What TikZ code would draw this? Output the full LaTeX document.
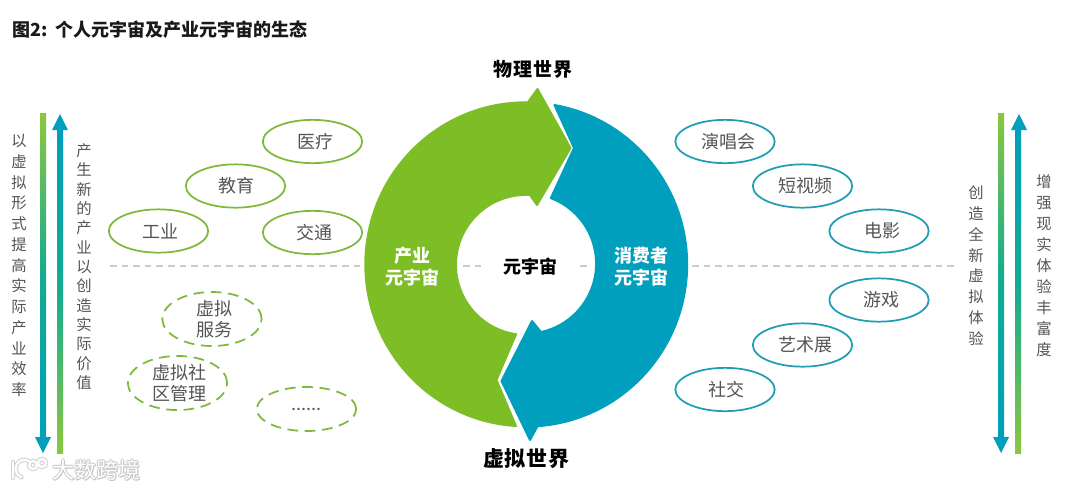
\documentclass[tikz,border=0pt]{standalone}
\usepackage{fontspec}
\setmainfont{Noto Sans CJK SC}
\usetikzlibrary{shapes.geometric}
\definecolor{mgreen}{HTML}{7DBE26}
\definecolor{mblue}{HTML}{009FBD}
\definecolor{egreen}{HTML}{7DB93A}
\definecolor{eblue}{HTML}{1F9DB5}
\definecolor{grad}{HTML}{15AC90}
\definecolor{bargreen}{HTML}{8CC63F}
\definecolor{txt}{HTML}{555555}
\newcommand{\fpx}[1]{\fontsize{\dimexpr #1pt*3/4\relax}{\dimexpr #1pt*9/10\relax}\selectfont}
\tikzset{
  ovbase/.style={ellipse,inner sep=0pt,minimum width=74.5pt,minimum height=32.5pt,line width=1.3pt,text=txt,font=\fpx{18},align=center},
  ovgreen/.style={ovbase,draw=egreen},
  ovblue/.style={ovbase,draw=eblue},
  ovdash/.style={ovbase,draw=egreen,dash pattern=on 8pt off 5pt,minimum height=37pt},
  ringa/.style={fill=mgreen,draw=mgreen,line width=1.5pt,line join=round},
  ringb/.style={fill=mblue,draw=mblue,line width=1.5pt,line join=round},
  hline/.style={draw=black!20,line width=0.8pt,dash pattern=on 5pt off 3.7pt},
  ringtxt/.style={text=white,font=\fpx{18}\bfseries,inner sep=0pt,align=center},
  bigtxt/.style={text=black,font=\fpx{19}\bfseries,inner sep=0pt},
  vtxt/.style={text=txt,align=center,inner sep=0pt},
  wm/.style={line width=1.7pt,line cap=round,draw=white},
  wms/.style={line width=3.4pt,line cap=round,draw=black!17},
  wmt/.style={inner sep=0pt,font=\fpx{22}},
  headf/.style={fill=mblue,draw=none}
}
\begin{document}
\begin{tikzpicture}[x=0.75pt,y=-0.75pt]
\useasboundingbox (0,0) rectangle (1080,490);
\fill[white] (0,0) rectangle (1080,490);

% title
\node[anchor=west,inner sep=0pt,font=\fpx{18}\bfseries,text=black!90] (title) at (12,30)
  {图2:\hspace{6pt}个人元宇宙及产业元宇宙的生态};

% dashed centre line
\coordinate (la) at (110,266); \coordinate (lb) at (362,266);
\coordinate (ma) at (463,266); \coordinate (mb) at (482,266);
\coordinate (mc) at (580,266); \coordinate (md) at (589,266);
\coordinate (ra) at (692,266); \coordinate (rb) at (957,266);
\draw[hline] (la) -- (lb);
\draw[hline] (ma) -- (mb);
\draw[hline] (mc) -- (md);
\draw[hline] (ra) -- (rb);

% ring: green arrow
\filldraw[ringa] (516,426)
  arc[start angle=93.5,end angle=270.7,x radius=160.5,y radius=162]
  -- (537.5,89) -- (570.5,148) -- (537,205) -- (530,195)
  arc[start angle=273.3,end angle=98.1,x radius=70,y radius=70]
  -- (496.5,380) -- cycle;
% ring: blue arrow
\filldraw[ringb] (554.5,105)
  arc[start angle=-80,end angle=86.1,x radius=160.5,y radius=162]
  -- (530,440) -- (501.5,381) -- (532,321) -- (541,332)
  arc[start angle=77.7,end angle=-69.3,x radius=70,y radius=70]
  -- (574,148) -- cycle;

\node[bigtxt] (phys) at (533,69) {物\hspace{1pt}理\hspace{1pt}世\hspace{1pt}界};
\node[bigtxt,font=\fpx{21}\bfseries] (virt) at (526,459) {虚\hspace{0.5pt}拟\hspace{0.5pt}世\hspace{0.5pt}界};
\node[text=black,font=\fpx{18}\bfseries,inner sep=0pt] (meta) at (530,267) {元宇宙};
\node[ringtxt] (ind) at (412,266.5) {产业\\元宇宙};
\node[ringtxt] (con) at (641,266.5) {消费者\\元宇宙};

% left ellipses
\node[ovgreen] (e1) at (312.5,141.5) {\hspace*{4pt}医疗};
\node[ovgreen] (e2) at (235.5,186) {\hspace*{2pt}教育};
\node[ovgreen] (e3) at (158.5,231) {\hspace*{3pt}工业};
\node[ovgreen] (e4) at (312.5,232.5) {\hspace*{3pt}交通};
\node[ovdash] (e5) at (212,319) {\hspace*{3pt}虚拟\\\hspace*{3pt}服务};
\node[ovdash] (e6) at (177.5,383) {\hspace*{3pt}虚拟社\\\hspace*{3pt}区管理};
\node[ovdash,minimum height=33pt] (e7) at (306.5,409) {......};

% right ellipses
\node[ovblue] (f1) at (725,141.5) {\hspace*{5pt}演唱会};
\node[ovblue] (f2) at (802.5,186) {\hspace*{5pt}短视频};
\node[ovblue] (f3) at (879,231) {\hspace*{5pt}电影};
\node[ovblue] (f4) at (879,300) {\hspace*{4pt}游戏};
\node[ovblue] (f5) at (802.5,345) {\hspace*{5pt}艺术展};
\node[ovblue] (f6) at (725,389.5) {\hspace*{2pt}社交};

% gradient bars, left
\shade[top color=bargreen,bottom color=mblue,middle color=grad] (40,113) rectangle (46,438);
\fill[headf] (35,437) -- (51,437) -- (43,453) -- cycle;
\shade[top color=mblue,bottom color=bargreen,middle color=grad] (57,129) rectangle (63,453);
\fill[headf] (52,130) -- (68,130) -- (60,114) -- cycle;
% gradient bars, right
\shade[top color=bargreen,bottom color=mblue,middle color=grad] (998,113) rectangle (1004,438);
\fill[headf] (993,437) -- (1009,437) -- (1001,453) -- cycle;
\shade[top color=mblue,bottom color=bargreen,middle color=grad] (1015,129) rectangle (1021,453);
\fill[headf] (1011,130) -- (1027,130) -- (1019,114) -- cycle;

% vertical texts
\node[vtxt,font=\fontsize{11.5pt}{15.56pt}\selectfont] (v1) at (19,265.5)
  {以\\虚\\拟\\形\\式\\提\\高\\实\\际\\产\\业\\效\\率};
\node[vtxt,font=\fontsize{11.5pt}{14.5pt}\selectfont] (v2) at (84,266.5)
  {产\\生\\新\\的\\产\\业\\以\\创\\造\\实\\际\\价\\值};
\node[vtxt,font=\fontsize{11.5pt}{15.56pt}\selectfont] (v3) at (976,265.5)
  {创\\造\\全\\新\\虚\\拟\\体\\验};
\node[vtxt,font=\fontsize{11.5pt}{15.75pt}\selectfont] (v4) at (1044,266)
  {增\\强\\现\\实\\体\\验\\丰\\富\\度};

% watermark
\foreach \dx/\dy in {-1/0,1/0,0/-1,0/1,1/1}
  \node[wmt,text=black!22] at (96+\dx,470+\dy) {大数跨境};
\node[wmt,text=white] (wt) at (96,470) {大数跨境};
\draw[wms] (13,462) -- (13,478);
\draw[wms] (29,461) arc[start angle=-60,end angle=-250,radius=9];
\draw[wms] (33,465) circle[radius=4];
\draw[wms] (42,463) circle[radius=4];
\draw[wm] (13,462) -- (13,478);
\draw[wm] (29,461) arc[start angle=-60,end angle=-250,radius=9];
\draw[wm] (33,465) circle[radius=4];
\draw[wm] (42,463) circle[radius=4];
\end{tikzpicture}
\end{document}
